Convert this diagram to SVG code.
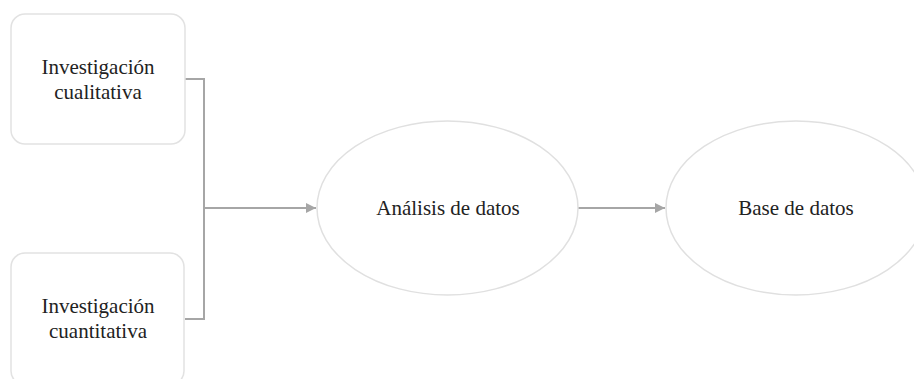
<svg xmlns="http://www.w3.org/2000/svg" width="914" height="379" viewBox="0 0 914 379">
<defs>
<style>
.box{fill:#ffffff;stroke:#e2e2e2;stroke-width:1.5}
.ell{fill:#ffffff;stroke:#e0e0e0;stroke-width:1.5}
.lbl{font-family:"Liberation Serif","Times New Roman",serif;font-size:21px;fill:#222222;text-anchor:middle}
.con{fill:none;stroke:#a6a6a6;stroke-width:2}
</style>
<marker id="arr" viewBox="0 0 10 10" refX="10" refY="5" markerWidth="10" markerHeight="10" markerUnits="userSpaceOnUse" orient="auto">
<path d="M0,0 L10,5 L0,10 Z" fill="#a6a6a6"/>
</marker>
</defs>
<rect width="914" height="379" fill="#ffffff"/>
<g id="connectors">
<polyline class="con" points="185,79 204,79 204,319 185,319"/>
<line class="con" x1="204" y1="208" x2="316" y2="208" marker-end="url(#arr)"/>
<line class="con" x1="578" y1="208" x2="665" y2="208" marker-end="url(#arr)"/>
</g>
<g id="node-cualitativa">
<rect class="box" x="11" y="14" width="174" height="130" rx="14"/>
<text class="lbl" x="98" y="74">Investigación</text>
<text class="lbl" x="98" y="99">cualitativa</text>
</g>
<g id="node-cuantitativa">
<rect class="box" x="11" y="253" width="173" height="132" rx="14"/>
<text class="lbl" x="98" y="313">Investigación</text>
<text class="lbl" x="98" y="338">cuantitativa</text>
</g>
<g id="node-analisis">
<ellipse class="ell" cx="447.5" cy="208" rx="130.5" ry="87"/>
<text class="lbl" x="448" y="215">Análisis de datos</text>
</g>
<g id="node-base">
<ellipse class="ell" cx="796" cy="208" rx="130" ry="87"/>
<text class="lbl" x="796" y="215">Base de datos</text>
</g>
</svg>
